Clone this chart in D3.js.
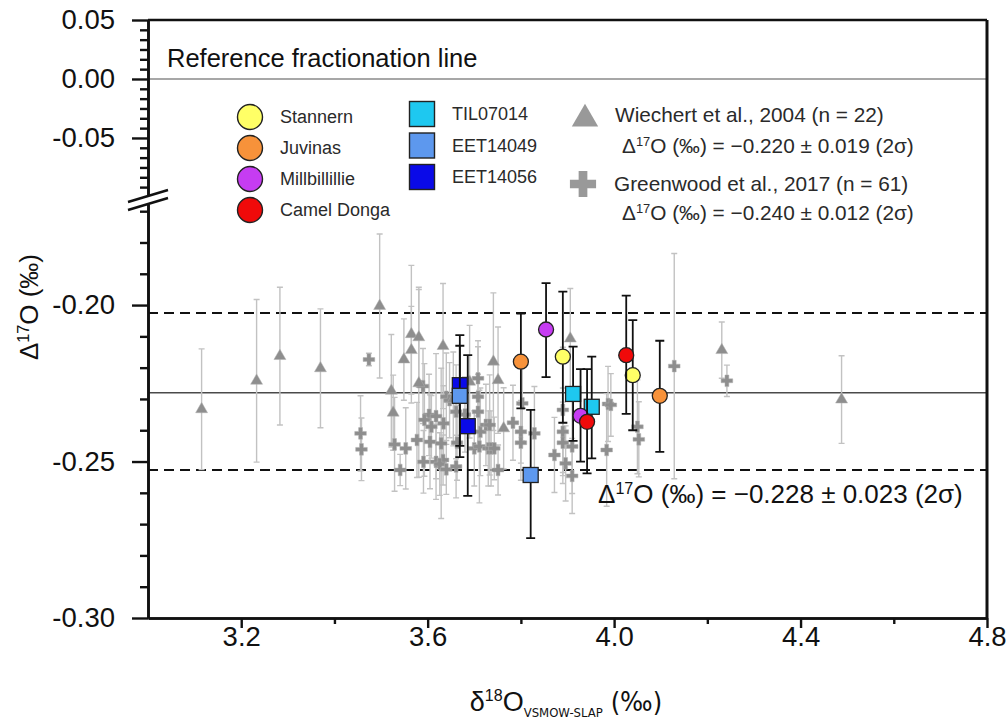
<!DOCTYPE html>
<html>
<head>
<meta charset="utf-8">
<script src="https://cdn.jsdelivr.net/npm/d3@7"></script>
<style>
  body { margin: 0; background: #fff; }
  text { font-family: Arial, "Liberation Sans", sans-serif; fill: #111; }
</style>
</head>
<body>
<script>
// Axis ticks
const xTicks = [3.2, 3.6, 4.0, 4.4, 4.8]
const xMinorTicks = [3.4, 3.8, 4.2, 4.6]
const yTopTicks = [0.05, 0.00, -0.05]
const yBotTicks = [-0.20, -0.25, -0.30]

// Reference lines
const refZero = 0.0
const refMean = -0.228
const refBand = [-0.2025, -0.2527]

// Literature data: [d18O, D17O, error]
const wiechert = [
  [3.115, -0.2333, 0.0193], [3.233, -0.2242, 0.026], [3.283, -0.2163, 0.022],
  [3.370, -0.2202, 0.019], [3.497, -0.2003, 0.023], [3.522, -0.2274, 0.018],
  [3.526, -0.2344, 0.012], [3.549, -0.2174, 0.013], [3.565, -0.2093, 0.022],
  [3.565, -0.2144, 0.014], [3.581, -0.2103, 0.016], [3.581, -0.2250, 0.030],
  [3.633, -0.2131, 0.020], [3.741, -0.2181, 0.022], [3.751, -0.2240, 0.017],
  [3.763, -0.2394, 0.013], [3.906, -0.2107, 0.016], [4.231, -0.2144, 0.009],
  [4.488, -0.2302, 0.014], [3.690, -0.2245, 0.018], [3.655, -0.2300, 0.015]
]
const greenwood = [
  [3.474, -0.2174, 0.002], [3.456, -0.2410, 0.012], [3.458, -0.2461, 0.010],
  [3.529, -0.2445, 0.015], [3.553, -0.2458, 0.013], [3.541, -0.2527, 0.005],
  [3.590, -0.2259, 0.012], [3.603, -0.2351, 0.013], [3.618, -0.2355, 0.020],
  [3.593, -0.2367, 0.018], [3.608, -0.2389, 0.010], [3.634, -0.2378, 0.012],
  [3.577, -0.2431, 0.012], [3.605, -0.2437, 0.015], [3.629, -0.2442, 0.024],
  [3.591, -0.2501, 0.010], [3.618, -0.2501, 0.012], [3.633, -0.2495, 0.008],
  [3.626, -0.2508, 0.010], [3.640, -0.2525, 0.008], [3.640, -0.2293, 0.014],
  [3.647, -0.2304, 0.012], [3.661, -0.2341, 0.015], [3.663, -0.2440, 0.012],
  [3.661, -0.2516, 0.010], [3.708, -0.2234, 0.012], [3.708, -0.2293, 0.016],
  [3.708, -0.2341, 0.012], [3.713, -0.2405, 0.014], [3.700, -0.2458, 0.012],
  [3.711, -0.2452, 0.018], [3.725, -0.2383, 0.013], [3.730, -0.2458, 0.012],
  [3.733, -0.2383, 0.016], [3.736, -0.2458, 0.012], [3.743, -0.2458, 0.010],
  [3.751, -0.2527, 0.008], [3.783, -0.2376, 0.012], [3.800, -0.2405, 0.010],
  [3.800, -0.2440, 0.012], [3.829, -0.2410, 0.015], [3.803, -0.2314, 0.012],
  [3.890, -0.2335, 0.020], [3.890, -0.2405, 0.014], [3.890, -0.2440, 0.013],
  [3.872, -0.2479, 0.012], [3.896, -0.2506, 0.012], [3.910, -0.2452, 0.015],
  [3.910, -0.2546, 0.012], [3.987, -0.2316, 0.012], [3.993, -0.2319, 0.010],
  [3.984, -0.2463, 0.018], [4.129, -0.2195, 0.036], [4.050, -0.2389, 0.015],
  [4.053, -0.2429, 0.012], [4.242, -0.2242, 0.005], [3.680, -0.2350, 0.012]
]

// This study: [d18O, D17O, lower, upper]
const stannern = [[3.890, -0.2165, -0.2376, -0.1957], [4.040, -0.2224, -0.2400, -0.2048]]
const juvinas = [[3.800, -0.2181, -0.2330, -0.2027], [4.098, -0.2290, -0.2469, -0.2114]]
const millbillillie = [[3.854, -0.2078, -0.2230, -0.1930], [3.928, -0.2354, -0.2500, -0.2205]]
const camelDonga = [[4.026, -0.2160, -0.2348, -0.1970], [3.942, -0.2373, -0.2538, -0.2205]]
const til07014 = [[3.912, -0.2284, -0.2434, -0.2133], [3.952, -0.2325, -0.2490, -0.2165]]
const eet14056 = [[3.669, -0.2256, -0.2486, -0.2096], [3.686, -0.2387, -0.2610, -0.2160]]
const eet14049 = [[3.669, -0.2290, -0.2450, -0.2130], [3.821, -0.2543, -0.2745, -0.2335]]

const circleSeries = [
  {name: 'Stannern', color: '#ffff66', data: stannern},
  {name: 'Juvinas', color: '#f7923a', data: juvinas},
  {name: 'Millbillillie', color: '#c63cf2', data: millbillillie},
  {name: 'Camel Donga', color: '#f00a0a', data: camelDonga}
]
const squareSeries = [
  {name: 'TIL07014', color: '#1ec8f0', data: til07014},
  {name: 'EET14049', color: '#5d98ee', data: eet14049},
  {name: 'EET14056', color: '#0a0ae8', data: eet14056}
]

const svgW = 1008
const svgH = 725
const pLeft = 148, pRight = 987, pTop = 20, pBottom = 618
const breakTop = 196, breakBot = 204

const svg = d3.select('body').append('svg')
  .attr('width', svgW)
  .attr('height', svgH)

// Scales
const x = d3.scaleLinear().domain([3.0, 4.8]).range([pLeft, pRight])
const yTop = d3.scaleLinear().domain([-0.0992, 0.05]).range([breakTop, pTop])
const yBot = d3.scaleLinear().domain([-0.30, -0.1677]).range([pBottom, breakBot])

const grey = '#8e8e8e'
const greyBar = '#c2c2c2'

// text helper with super/subscripts
function richText(g, px, py, parts, size, anchor) {
  const t = g.append('text')
    .attr('x', px).attr('y', py)
    .attr('text-anchor', anchor || 'start')
    .style('font-size', size + 'px')
  let shift = 0
  parts.forEach(([s, kind, fsize, family]) => {
    const ts = t.append('tspan').text(s)
    let target = 0
    if (kind === 'sup') { target = -size * 0.36; ts.style('font-size', (fsize || size * 0.62) + 'px') }
    if (kind === 'sub') { target = size * 0.22; ts.style('font-size', (fsize || size * 0.7) + 'px') }
    if (family) ts.style('font-family', family)
    if (target !== shift) ts.attr('dy', target - shift)
    shift = target
  })
  return t
}

// Reference lines
svg.append('line')
  .attr('x1', pLeft).attr('x2', pRight)
  .attr('y1', yTop(refZero)).attr('y2', yTop(refZero))
  .style('stroke', '#8a8a8a').style('stroke-width', 1.6)

svg.append('text')
  .attr('x', 167).attr('y', 67)
  .style('font-size', '25.5px')
  .text('Reference fractionation line')

svg.append('line')
  .attr('x1', pLeft).attr('x2', pRight)
  .attr('y1', yBot(refMean)).attr('y2', yBot(refMean))
  .style('stroke', '#4a4a4a').style('stroke-width', 1.4)

svg.selectAll('.band')
  .data(refBand)
  .join('line')
  .attr('class', 'band')
  .attr('x1', pLeft).attr('x2', pRight)
  .attr('y1', d => yBot(d)).attr('y2', d => yBot(d))
  .style('stroke', '#111').style('stroke-width', 2)
  .style('stroke-dasharray', '10,6')

// Literature error bars
const gGrey = svg.append('g')
const greyAll = wiechert.concat(greenwood)
gGrey.selectAll('.gbar')
  .data(greyAll)
  .join('path')
  .attr('class', 'gbar')
  .attr('d', d => {
    const cx = x(d[0]), y1 = yBot(d[1] - d[2]), y2 = yBot(d[1] + d[2])
    return `M${cx},${y1}V${y2}M${cx - 3},${y1}H${cx + 3}M${cx - 3},${y2}H${cx + 3}`
  })
  .style('fill', 'none')
  .style('stroke', greyBar)
  .style('stroke-width', 1.4)

// Literature markers
gGrey.selectAll('.gcross')
  .data(greenwood)
  .join('path')
  .attr('class', 'gcross')
  .attr('transform', d => `translate(${x(d[0])},${yBot(d[1])})`)
  .attr('d', d3.symbol(d3.symbolCross, 75))
  .style('fill', grey)
  .style('stroke', '#b0b0b0')
  .style('stroke-width', 0.5)

gGrey.selectAll('.gtri')
  .data(wiechert)
  .join('path')
  .attr('class', 'gtri')
  .attr('transform', d => `translate(${x(d[0])},${yBot(d[1])})`)
  .attr('d', d3.symbol(d3.symbolTriangle, 62))
  .style('fill', grey)
  .style('stroke', '#b0b0b0')
  .style('stroke-width', 0.5)

// This study: error bars and markers
const gSample = svg.append('g')
function drawSeries(series, shape) {
  const g = gSample.append('g')
  g.selectAll('.sbar')
    .data(series.data)
    .join('path')
    .attr('class', 'sbar')
    .attr('d', d => {
      const cx = x(d[0]), y1 = yBot(d[2]), y2 = yBot(d[3])
      return `M${cx},${y1}V${y2}M${cx - 4.5},${y1}H${cx + 4.5}M${cx - 4.5},${y2}H${cx + 4.5}`
    })
    .style('fill', 'none')
    .style('stroke', '#111')
    .style('stroke-width', 1.8)
  if (shape === 'circle') {
    g.selectAll('.mk')
      .data(series.data)
      .join('circle')
      .attr('cx', d => x(d[0])).attr('cy', d => yBot(d[1]))
      .attr('r', 7.5)
      .style('fill', series.color).style('stroke', '#222').style('stroke-width', 1.3)
  } else {
    g.selectAll('.mk')
      .data(series.data)
      .join('rect')
      .attr('x', d => x(d[0]) - 7.5).attr('y', d => yBot(d[1]) - 7.5)
      .attr('width', 15).attr('height', 15)
      .style('fill', series.color).style('stroke', '#222').style('stroke-width', 1.3)
  }
}
drawSeries(squareSeries[2], 'square')
drawSeries(squareSeries[1], 'square')
drawSeries(squareSeries[0], 'square')
circleSeries.forEach(s => drawSeries(s, 'circle'))

// Axes
const fmt = d => d.toFixed(2)
svg.append('g').attr('transform', `translate(${pLeft},0)`)
  .call(d3.axisLeft(yTop).tickValues(yTopTicks).tickSize(16).tickSizeOuter(0).tickPadding(17).tickFormat(fmt))
const topMinor = d3.range(1, 18).map(i => 0.05 - i * 0.05 / 6).filter(v => v > -0.0992 && Math.abs(v * 20 - Math.round(v * 20)) > 0.01)
svg.append('g').attr('transform', `translate(${pLeft},0)`)
  .call(d3.axisLeft(yTop).tickValues(topMinor).tickSize(8).tickSizeOuter(0).tickFormat(''))
svg.append('g').attr('transform', `translate(${pLeft},0)`)
  .call(d3.axisLeft(yBot).tickValues(yBotTicks).tickSize(16).tickSizeOuter(0).tickPadding(17).tickFormat(fmt))
const botMinor = d3.range(-0.29, -0.165, 0.01).filter(v => Math.abs(v * 20 - Math.round(v * 20)) > 0.01)
svg.append('g').attr('transform', `translate(${pLeft},0)`)
  .call(d3.axisLeft(yBot).tickValues(botMinor).tickSize(8).tickSizeOuter(0).tickFormat(''))

svg.append('g').attr('transform', `translate(0,${pBottom})`)
  .call(d3.axisBottom(x).tickValues(xTicks).tickSize(10).tickSizeOuter(0).tickPadding(-2).tickFormat(d => d.toFixed(1)))
svg.append('g').attr('transform', `translate(0,${pBottom})`)
  .call(d3.axisBottom(x).tickValues(xMinorTicks).tickSize(6).tickSizeOuter(0).tickFormat(''))

svg.selectAll('.domain').style('stroke', '#111').style('stroke-width', 2.6)
svg.selectAll('.tick line').style('stroke', '#111').style('stroke-width', 2.4)
svg.selectAll('.tick text').style('font-size', '27.5px').style('font-family', 'Arial, "Liberation Sans", sans-serif').style('fill', '#111')

// Frame: top and right
svg.append('line').attr('x1', pLeft).attr('x2', pRight).attr('y1', pTop).attr('y2', pTop)
  .style('stroke', '#111').style('stroke-width', 2.4)
svg.append('line').attr('x1', pRight).attr('x2', pRight).attr('y1', pTop).attr('y2', pBottom)
  .style('stroke', '#111').style('stroke-width', 3)

// Axis break marks
svg.append('rect').attr('x', pLeft - 3).attr('y', breakTop).attr('width', 6).attr('height', breakBot - breakTop)
  .style('fill', '#fff')
svg.selectAll('.brk')
  .data([breakTop, breakBot])
  .join('line')
  .attr('class', 'brk')
  .attr('x1', pLeft - 20).attr('x2', pLeft + 20)
  .attr('y1', d => d + 6).attr('y2', d => d - 6)
  .style('stroke', '#111').style('stroke-width', 2.4)

// Axis titles
const narrow = '"Liberation Sans Narrow", "Arial Narrow", "DejaVu Sans Condensed", Arial, sans-serif'
richText(svg, 566, 711, [['δ'], ['18', 'sup', 16], ['O'], ['VSMOW-SLAP', 'sub', 13, narrow], [' (‰)', null, null, narrow]], 27, 'middle')
const yt = richText(svg, 0, 0, [['Δ'], ['17', 'sup'], ['O (‰)']], 26, 'middle')
yt.attr('transform', 'translate(38,307) rotate(-90)')

// Mean annotation
richText(svg, 598, 503, [['Δ'], ['17', 'sup'], ['O (‰) = −0.228 ± 0.023 (2σ)']], 26, 'start')

// Legend
const gLeg = svg.append('g')
circleSeries.forEach((s, i) => {
  const cy = 117 + i * 31
  gLeg.append('circle').attr('cx', 250).attr('cy', cy).attr('r', 12.5)
    .style('fill', s.color).style('stroke', '#222').style('stroke-width', 1.4)
  gLeg.append('text').attr('x', 280).attr('y', cy + 6).style('font-size', '18px').style('fill', '#2a2a2a').text(s.name)
})
squareSeries.forEach((s, i) => {
  const cy = 114 + i * 31.5
  gLeg.append('rect').attr('x', 422 - 12.5).attr('y', cy - 12.5).attr('width', 25).attr('height', 25)
    .style('fill', s.color).style('stroke', '#222').style('stroke-width', 1.4)
  gLeg.append('text').attr('x', 452).attr('y', cy + 6).style('font-size', '18px').style('fill', '#2a2a2a').text(s.name)
})
gLeg.append('path').attr('transform', 'translate(585,119)')
  .attr('d', d3.symbol(d3.symbolTriangle, 300)).style('fill', '#999')
gLeg.append('text').attr('x', 615).attr('y', 122).style('font-size', '20.8px').style('fill', '#2a2a2a').text('Wiechert et al., 2004 (n = 22)')
richText(gLeg, 622, 153, [['Δ'], ['17', 'sup'], ['O (‰) = −0.220 ± 0.019 (2σ)']], 20.8, 'start').style('fill', '#2a2a2a')
gLeg.append('path').attr('transform', 'translate(583,184)')
  .attr('d', d3.symbol(d3.symbolCross, 380)).style('fill', '#999')
gLeg.append('text').attr('x', 614).attr('y', 191).style('font-size', '20.8px').style('fill', '#2a2a2a').text('Greenwood et al., 2017 (n = 61)')
richText(gLeg, 622, 220, [['Δ'], ['17', 'sup'], ['O (‰) = −0.240 ± 0.012 (2σ)']], 20.8, 'start').style('fill', '#2a2a2a')
</script>
</body>
</html>
